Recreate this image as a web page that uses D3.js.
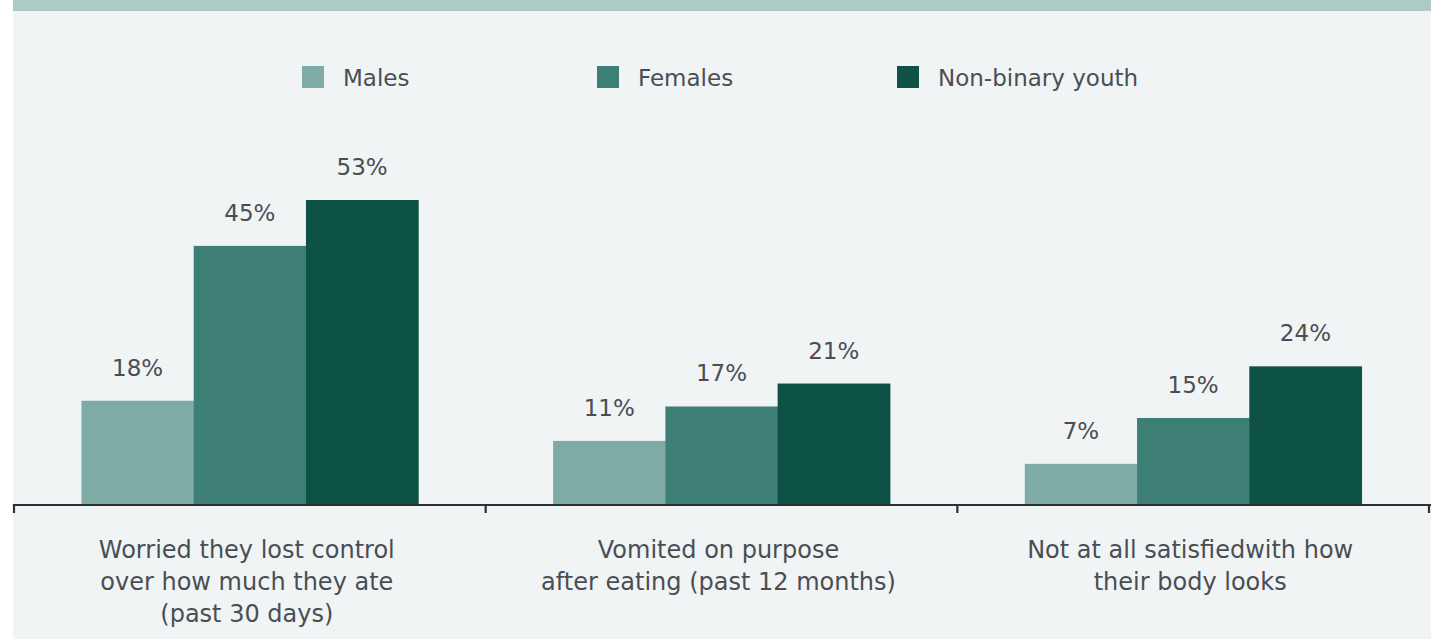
<!DOCTYPE html>
<html>
<head>
<meta charset="utf-8">
<script src="https://cdn.jsdelivr.net/npm/d3@7"></script>
<style>
  html, body { margin: 0; padding: 0; background: #ffffff; }
  svg { display: block; }
</style>
</head>
<body>
<svg id="chart" width="1431" height="639"></svg>
<script>
// ---- data ----
const categories = [
  "Worried they lost control over how much they ate (past 30 days)",
  "Vomited on purpose after eating (past 12 months)",
  "Not at all satisfiedwith how their body looks"
];
const categoryLines = [
  ["Worried they lost control", "over how much they ate", "(past 30 days)"],
  ["Vomited on purpose", "after eating (past 12 months)"],
  ["Not at all satisfiedwith how", "their body looks"]
];
const seriesNames = ["Males", "Females", "Non-binary youth"];
const males = [18, 11, 7];
const females = [45, 17, 15];
const nonBinary = [53, 21, 24];
const seriesColors = ["#7eaca5", "#3d7f75", "#0e5246"];

// ---- layout ----
const W = 1431, H = 639;
const svg = d3.select("#chart");
const textColor = "#4a4e53";
const font = "'DejaVu Sans', sans-serif";

// background
svg.append("rect").attr("x", 0).attr("y", 0).attr("width", W).attr("height", H).attr("fill", "#ffffff");
svg.append("rect").attr("x", 13).attr("y", 0).attr("width", W - 13).attr("height", H).attr("fill", "#f0f4f5");
svg.append("rect").attr("x", 13).attr("y", 0).attr("width", W - 13).attr("height", 11).attr("fill", "#adcac7");

const baseY = 504;
const x0 = d3.scaleBand().domain(categories).range([14, 1429]).paddingInner(0.286).paddingOuter(0.143);
const x1 = d3.scaleBand().domain(seriesNames).range([0, x0.bandwidth()]).padding(0);
const y = d3.scaleLinear().domain([0, 53]).range([baseY, 200]);

const rows = categories.map((c, i) => ({
  cat: c,
  vals: [males[i], females[i], nonBinary[i]]
}));

const g = svg.append("g");
const groups = g.selectAll("g.grp").data(rows).join("g")
  .attr("class", "grp")
  .attr("transform", d => `translate(${x0(d.cat)},0)`);

groups.selectAll("rect").data(d => d.vals.map((v, j) => ({ s: seriesNames[j], v, j })))
  .join("rect")
  .attr("x", d => x1(d.s))
  .attr("width", x1.bandwidth() + 0.5)
  .attr("y", d => y(d.v))
  .attr("height", d => baseY - y(d.v))
  .attr("fill", d => seriesColors[d.j]);

groups.selectAll("text.val").data(d => d.vals.map((v, j) => ({ s: seriesNames[j], v, j })))
  .join("text")
  .attr("class", "val")
  .attr("x", d => x1(d.s) + x1.bandwidth() / 2)
  .attr("y", d => y(d.v) - 25)
  .attr("text-anchor", "middle")
  .attr("font-family", font)
  .attr("font-size", 23)
  .attr("fill", textColor)
  .text(d => d.v + "%");

// axis line + ticks at band boundaries
const [r0, r1] = x0.range();
const step = x0.step();
const boundaries = d3.range(categories.length + 1).map(i => r0 + i * step);
svg.append("line").attr("x1", 13).attr("x2", W).attr("y1", baseY + 1).attr("y2", baseY + 1)
  .attr("stroke", "#2e3133").attr("stroke-width", 2);
svg.selectAll("line.tick").data(boundaries).join("line")
  .attr("class", "tick")
  .attr("x1", d => d).attr("x2", d => d)
  .attr("y1", baseY).attr("y2", baseY + 9)
  .attr("stroke", "#2e3133").attr("stroke-width", 2.2);

// category labels
const catG = svg.selectAll("text.cat").data(categories).join("text")
  .attr("class", "cat")
  .attr("text-anchor", "middle")
  .attr("font-family", font)
  .attr("font-size", 24)
  .attr("fill", textColor);
catG.each(function(d, i) {
  const t = d3.select(this);
  categoryLines[i].forEach((line, k) => {
    t.append("tspan")
      .attr("x", x0(d) + x0.bandwidth() / 2 - 3)
      .attr("y", 558 + k * 32)
      .text(line);
  });
});

// legend
const legendX = [302, 597, 897];
const lg = svg.selectAll("g.leg").data(seriesNames).join("g")
  .attr("class", "leg")
  .attr("transform", (d, i) => `translate(${legendX[i]},66)`);
lg.append("rect").attr("width", 22).attr("height", 22).attr("fill", (d, i) => seriesColors[i]);
lg.append("text").attr("x", 41).attr("y", 20)
  .attr("font-family", font).attr("font-size", 23).attr("fill", textColor)
  .text(d => d);
</script>
</body>
</html>
